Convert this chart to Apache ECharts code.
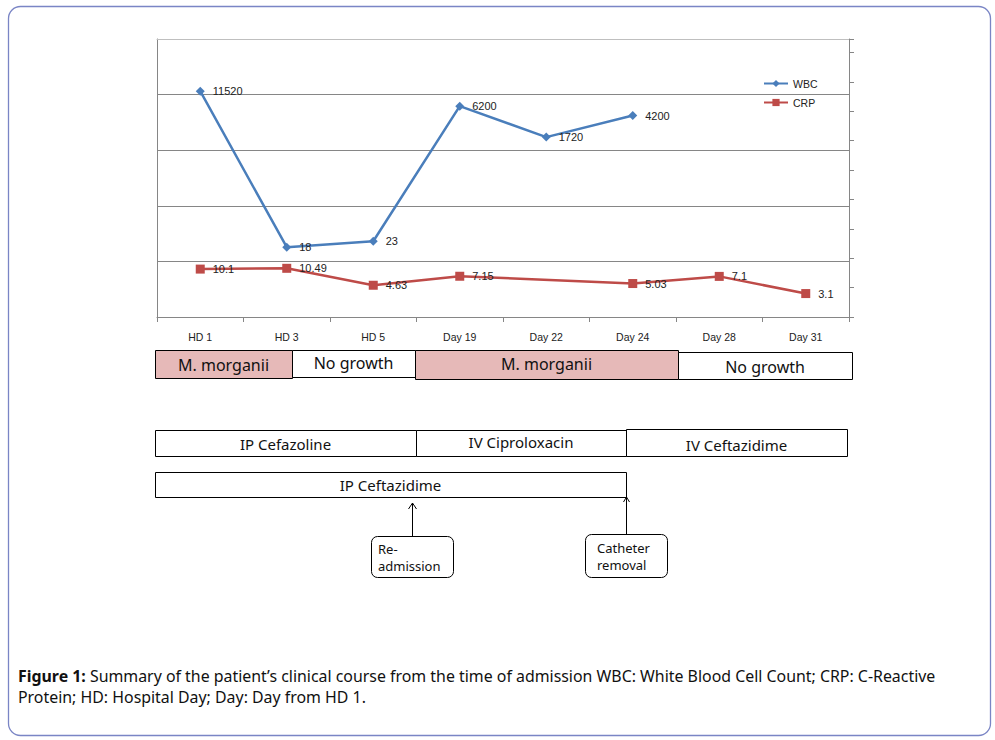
<!DOCTYPE html>
<html><head><meta charset="utf-8">
<script src="https://cdn.jsdelivr.net/npm/echarts@6/dist/echarts.min.js"></script>
<style>html,body{margin:0;padding:0;background:#fff}#c{width:995px;height:740px}</style>
</head><body><div id="c"></div>
<script>
// ---- data ----
const categories = ['HD 1','HD 3','HD 5','Day 19','Day 22','Day 24','Day 28','Day 31'];
const wbc = [11520, 18, 23, 6200, 1720, 4200, null, null];
const crp = [10.1, 10.49, 4.63, 7.15, null, 5.03, 7.1, 3.1];
const seriesNames = ['WBC', 'CRP'];
const cultureResults = ['M. morganii', 'No growth', 'M. morganii', 'No growth'];
const antibioticsRow1 = ['IP Cefazoline', 'IV Ciproloxacin', 'IV Ceftazidime'];
const antibioticsRow2 = ['IP Ceftazidime'];
const eventNotes = [['Re-', 'admission'], ['Catheter', 'removal']];
const captionBold = 'Figure 1:';
const captionLine1 = ' Summary of the patient\u2019s clinical course from the time of admission WBC: White Blood Cell Count; CRP: C-Reactive';
const captionLine2 = 'Protein; HD: Hospital Day; Day: Day from HD 1.';

// ---- layout (styles / positions) ----
const BLUE = '#4a7ebb', RED = '#be4b48', AXIS = '#868686', PINK = '#e6b9b8';
const boxFont = '16px "Noto Sans", sans-serif';
const boxFont2 = '15px "Noto Sans", sans-serif';
const capFont = '"Noto Sans", sans-serif';
const capSize = '15.9px ';

const cultureBoxes = [
  {x0:155, x1:292, y:350, h:28, fill:PINK, ty:365},
  {x0:292, x1:415, y:350, h:27, fill:'#fff', ty:363},
  {x0:415, x1:678, y:350, h:29, fill:PINK, ty:364},
  {x0:678, x1:852, y:352, h:27, fill:'#fff', ty:367}
];
const row1Boxes = [
  {x0:155, x1:416, y:430, h:26, ty:444},
  {x0:416, x1:626, y:430, h:26, ty:442},
  {x0:626, x1:847, y:429, h:27, ty:445}
];
const row2Boxes = [{x0:155, x1:626, y:472, h:25, ty:485}];

const graphics = [];
graphics.push({type:'rect', shape:{x:8.5, y:6.5, width:982, height:729, r:12},
  style:{fill:'none', stroke:'#7a85c5', lineWidth:1.3}, z:0});

function addBoxes(boxes, labels, font) {
  boxes.forEach((b, i) => {
    graphics.push({type:'rect', shape:{x:b.x0+0.5, y:b.y+0.5, width:b.x1-b.x0, height:b.h},
      style:{fill:b.fill || '#fff', stroke:'#000', lineWidth:1}, z:1});
    graphics.push({type:'text', x:(b.x0+b.x1)/2, y:b.ty,
      style:{text:labels[i], font:font, fill:'#111', textAlign:'center', textVerticalAlign:'middle'}, z:2});
  });
}
addBoxes(cultureBoxes, cultureResults, boxFont);
addBoxes(row1Boxes, antibioticsRow1, boxFont2);
addBoxes(row2Boxes, antibioticsRow2, boxFont2);

const arrows = [{x:412.5, y0:536, y1:503, hw:4, hh:6}, {x:626.5, y0:534, y1:497, hw:3, hh:5}];
arrows.forEach(a => {
  graphics.push({type:'line', shape:{x1:a.x, y1:a.y0, x2:a.x, y2:a.y1}, style:{stroke:'#000', lineWidth:1}, z:2});
  graphics.push({type:'polyline', shape:{points:[[a.x-a.hw, a.y1+a.hh],[a.x, a.y1],[a.x+a.hw, a.y1+a.hh]]},
    style:{stroke:'#000', lineWidth:1, fill:'none'}, z:2});
});
const callouts = [{x:371.5, y:536.5, w:82, h:41, tx:378, ty:557.5}, {x:585.5, y:534.5, w:82, h:43, tx:597, ty:556.5}];
callouts.forEach((c, i) => {
  graphics.push({type:'rect', shape:{x:c.x, y:c.y, width:c.w, height:c.h, r:6},
    style:{fill:'#fff', stroke:'#000', lineWidth:1}, z:1});
  graphics.push({type:'text', x:c.tx, y:c.ty,
    style:{text:eventNotes[i].join('\n'), font:'13px "Noto Sans", sans-serif', lineHeight:17, fill:'#111',
      textAlign:'left', textVerticalAlign:'middle'}, z:2});
});
graphics.push({type:'text', x:18, y:676, style:{
  text:'{b|' + captionBold + '}{n|' + captionLine1 + '}', textVerticalAlign:'middle', textAlign:'left',
  rich:{b:{font:'bold ' + capSize + capFont, fill:'#111'}, n:{font:capSize + capFont, fill:'#111'}}}, z:2});
graphics.push({type:'text', x:18, y:697, style:{
  text:captionLine2, font:capSize + capFont, fill:'#111', textAlign:'left', textVerticalAlign:'middle'}, z:2});

const labelStyle = {show:true, position:'right', distance:8, fontSize:11, color:'#222',
  fontFamily:'"Liberation Sans", Arial, sans-serif'};

const chart = echarts.init(document.getElementById('c'), null, {renderer:'svg'});
chart.setOption({
  animation:false,
  backgroundColor:'#fff',
  grid:{left:157, right:146, top:39, bottom:423, containLabel:false},
  legend:{data:seriesNames, orient:'vertical', left:763, top:78, padding:0, itemWidth:24, itemHeight:9, itemGap:8,
    textStyle:{fontSize:10.5, color:'#222', fontFamily:'"Liberation Sans", Arial, sans-serif'}},
  xAxis:[
    {type:'category', data:categories, boundaryGap:true, position:'bottom',
     axisLine:{lineStyle:{color:AXIS}}, axisTick:{show:true, length:5, alignWithLabel:false, lineStyle:{color:AXIS}},
     axisLabel:{interval:0, margin:14, fontSize:10.5, color:'#222', fontFamily:'"Liberation Sans", Arial, sans-serif'},
     splitLine:{show:false}},
    {type:'category', data:categories, position:'top',
     axisLine:{lineStyle:{color:'#bfbfbf'}}, axisTick:{show:false}, axisLabel:{show:false}, splitLine:{show:false}}
  ],
  yAxis:[
    {type:'log', logBase:10, min:1, max:100000, position:'left',
     axisLine:{show:true, lineStyle:{color:AXIS}}, axisTick:{show:false}, axisLabel:{show:false},
     splitLine:{show:true, showMinLine:false, showMaxLine:false, lineStyle:{color:AXIS, width:1}}},
    {type:'log', logBase:10, min:1, max:673000, show:false, position:'right'},
    {type:'value', min:0, max:9.456, interval:1, position:'right',
     axisLine:{show:true, lineStyle:{color:AXIS}}, axisTick:{show:true, length:5, inside:false, lineStyle:{color:AXIS}},
     axisLabel:{show:false}, splitLine:{show:false}}
  ],
  series:[
    {name:seriesNames[0], type:'line', yAxisIndex:0, data:wbc, symbol:'diamond', symbolSize:9,
     lineStyle:{width:2.5, color:BLUE}, itemStyle:{color:BLUE}, label:labelStyle, z:3},
    {name:seriesNames[1], type:'line', yAxisIndex:1, data:crp, connectNulls:true, symbol:'rect', symbolSize:9,
     lineStyle:{width:2.5, color:RED}, itemStyle:{color:RED}, label:labelStyle, z:3}
  ],
  graphic:{elements:graphics}
});
</script>
</body></html>
